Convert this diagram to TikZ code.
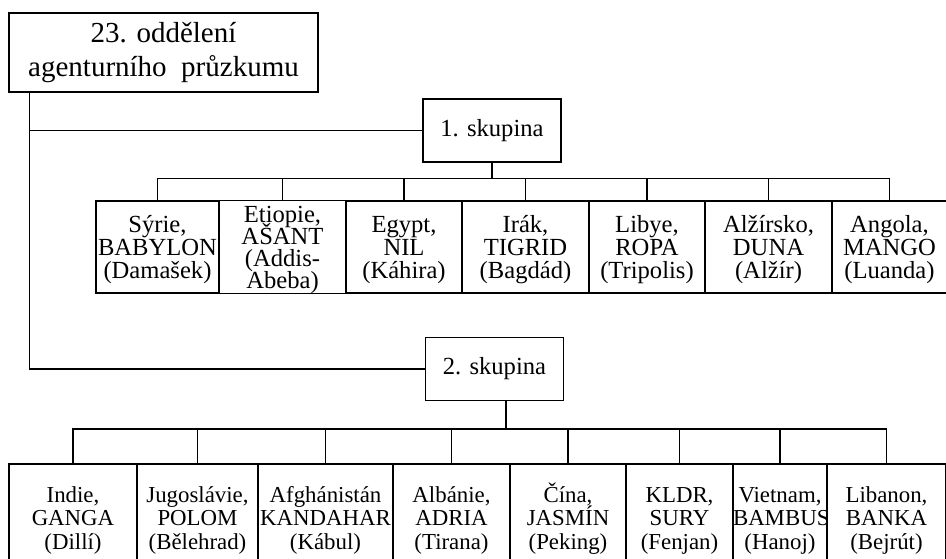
\documentclass[tikz,border=0pt]{standalone}
\usepackage{fontspec}
\setmainfont{Liberation Serif}
\usetikzlibrary{positioning}

\begin{document}
\begin{tikzpicture}[
  node distance=0pt,
  head/.style={draw, line width=0.7pt, minimum width=6.18cm, minimum height=1.58cm, align=center, font=\fontsize{16.5}{19}\selectfont},
  group/.style={draw, line width=0.6pt, minimum width=2.76cm, minimum height=1.26cm, font=\fontsize{14}{16}\selectfont},
  kid/.style={draw, line width=0.6pt, outer sep=0pt, inner xsep=0pt, inner ysep=0pt, text width=#1, align=center, minimum height=1.84cm, font=\fontsize{14}{13}\selectfont, execute at begin node={\lineskiplimit=-20pt\relax\lineskip=0pt\relax\rule{0pt}{0.9em}}},
  kidb/.style={kid=#1, minimum height=2.16cm, font=\fontsize{13}{13.3}\selectfont},
  link/.style={line width=1pt}
]
\useasboundingbox (0,0) rectangle (18.92,-11.18);
\clip (0,0) rectangle (18.92,-11.18);

% Top unit
\node[head] (odd23) at (3.27,-1.05) {23. oddělení\\agenturního\ \ průzkumu};

% Groups
\node[group] (sk1) at (9.84,-2.61) {1. skupina};
\node[group] (sk2) at (9.89,-7.38) {2. skupina};

% Group 1 (first row)
\node[kid=2.46cm, anchor=north west] (syrie) at (1.92,-4.02) {Sýrie,\\BABYLON\\(Damašek)};
\node[kid=2.54cm, right=of syrie, font=\fontsize{14}{12.6}\selectfont, execute at begin node={\lineskiplimit=-20pt\relax\lineskip=0pt\relax}] (etiopie) {Etiopie,\\AŠANT\\(Addis-\\Abeba)};
\node[kid=2.32cm, right=of etiopie] (egypt) {Egypt,\\NIL\\(Káhira)};
\node[kid=2.54cm, right=of egypt] (irak) {Irák,\\TIGRID\\(Bagdád)};
\node[kid=2.32cm, right=of irak] (libye) {Libye,\\ROPA\\(Tripolis)};
\node[kid=2.54cm, right=of libye] (alzir) {Alžírsko,\\DUNA\\(Alžír)};
\node[kid=2.30cm, right=of alzir] (angola) {Angola,\\MANGO\\(Luanda)};

% Group 2 (second row)
\node[kidb=2.56cm, anchor=north west] (indie) at (0.18,-9.28) {Indie,\\GANGA\\(Dillí)};
\node[kidb=2.42cm, right=of indie] (jugo) {Jugoslávie,\\POLOM\\(Bělehrad)};
\node[kidb=2.70cm, right=of jugo] (afgh) {Afghánistán\\KANDAHAR\\(Kábul)};
\node[kidb=2.34cm, right=of afgh] (alb) {Albánie,\\ADRIA\\(Tirana)};
\node[kidb=2.32cm, right=of alb] (cina) {Čína,\\JASMÍN\\(Peking)};
\node[kidb=2.14cm, right=of cina] (kldr) {KLDR,\\SURY\\(Fenjan)};
\node[kidb=1.88cm, right=of kldr] (viet) {Vietnam,\\BAMBUS\\(Hanoj)};
\node[kidb=2.38cm, right=of viet] (liban) {Libanon,\\BANKA\\(Bejrút)};

% Trunk from the top unit
\draw[link] ([xshift=0.42cm]odd23.south west) |- (sk1.west);
\draw[link] ([xshift=0.42cm]odd23.south west) |- (sk2.west);

% Buses down to the countries
\draw[link] (sk1.south) -- ++(0,-0.32) coordinate (bus1);
\foreach \c in {syrie,etiopie,egypt,irak,libye,alzir,angola}
  \draw[link] (bus1) -| (\c.north);
\draw[link] ([xshift=0.23cm]sk2.south) -- ++(0,-0.56) coordinate (bus2);
\foreach \c in {indie,jugo,afgh,alb,cina,kldr,viet,liban}
  \draw[link] (bus2) -| (\c.north);

\end{tikzpicture}
\end{document}
